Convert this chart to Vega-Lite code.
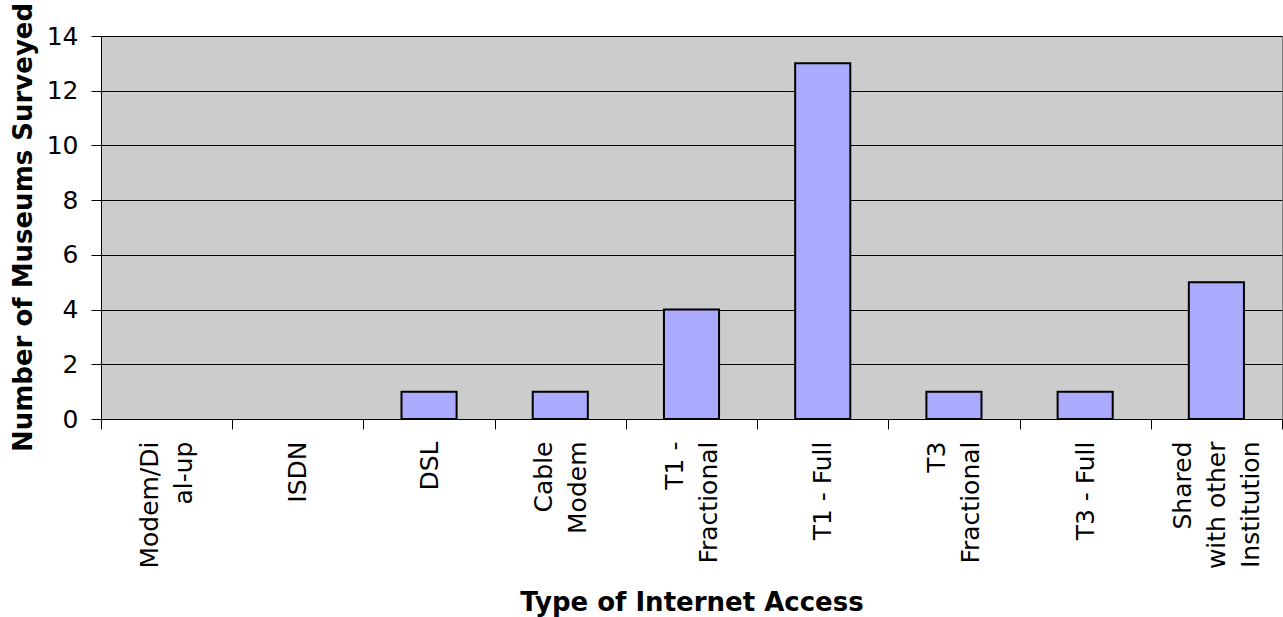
{
  "$schema": "https://vega.github.io/schema/vega-lite/v6.json",
  "autosize": "none",
  "width": 1181,
  "height": 383,
  "padding": {"left": 101, "top": 36, "right": 1, "bottom": 198},
  "background": "white",
  "config": {
    "font": "DejaVu Sans",
    "view": {"fill": "#CCCCCC", "stroke": "#808080", "strokeWidth": 1}
  },
  "data": {
    "values": [
      {"access": "Modem/Di\nal-up", "count": 0},
      {"access": "ISDN", "count": 0},
      {"access": "DSL", "count": 1},
      {"access": "Cable\nModem", "count": 1},
      {"access": "T1 -\nFractional", "count": 4},
      {"access": "T1 - Full", "count": 13},
      {"access": "T3\nFractional", "count": 1},
      {"access": "T3 - Full", "count": 1},
      {"access": "Shared\nwith other\nInstitution", "count": 5}
    ]
  },
  "mark": {"type": "bar", "fill": "#AAAAFF", "stroke": "black", "strokeWidth": 2, "width": {"band": 0.42}},
  "encoding": {
    "x": {
      "field": "access",
      "type": "nominal",
      "sort": null,
      "scale": {"paddingInner": 0, "paddingOuter": 0},
      "axis": {
        "title": "Type of Internet Access",
        "titleFontSize": 26,
        "titleFontWeight": "bold",
        "titleColor": "black",
        "titleY": 170,
        "titleBaseline": "top",
        "labelAngle": -90,
        "labelAlign": "right",
        "labelBaseline": "middle",
        "labelExpr": "split(datum.label, '\\n')",
        "labelFontSize": 25,
        "labelColor": "black",
        "labelLineHeight": 34,
        "labelPadding": 12,
        "labelOverlap": false,
        "labelLimit": 0,
        "labelBound": false,
        "labelFlush": false,
        "labelOffset": {"signal": "-(length(split(datum.label, '\\n')) - 1) * 17"},
        "tickBand": "extent",
        "tickSize": 10,
        "tickColor": "black",
        "domainColor": "black",
        "grid": false
      }
    },
    "y": {
      "field": "count",
      "type": "quantitative",
      "scale": {"domain": [0, 14]},
      "axis": {
        "title": "Number of Museums Surveyed",
        "titleFontSize": 26,
        "titleFontWeight": "bold",
        "titleColor": "black",
        "titleX": -78,
        "titleY": 191,
        "titleAngle": -90,
        "titleAlign": "center",
        "titleBaseline": "middle",
        "values": [0, 2, 4, 6, 8, 10, 12, 14],
        "labelFontSize": 25,
        "labelColor": "black",
        "labelPadding": 13,
        "tickSize": 10,
        "tickColor": "black",
        "domainColor": "black",
        "grid": true,
        "gridColor": "black",
        "gridOpacity": 1
      }
    },
    "strokeOpacity": {"condition": {"test": "datum.count > 0", "value": 1}, "value": 0}
  }
}
